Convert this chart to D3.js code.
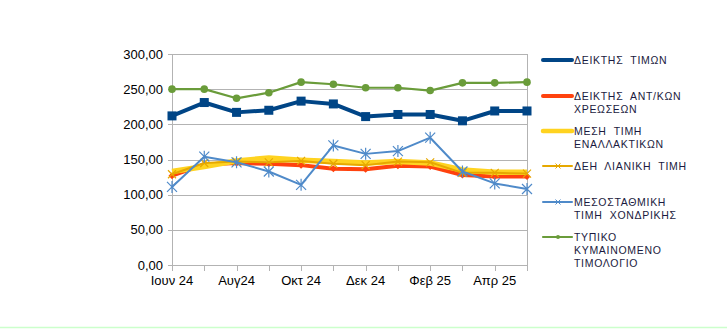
<!DOCTYPE html>
<html><head><meta charset="utf-8">
<script src="https://cdn.jsdelivr.net/npm/d3@7"></script>
<style>
body{margin:0;background:#fff;}
text{font-family:"Liberation Sans",Arial,sans-serif;}
</style></head>
<body><svg id="c" width="727" height="329"></svg>
<script>
const categories = ["Ιουν 24","Ιουλ 24","Αυγ24","Σεπ 24","Οκτ 24","Νοε 24","Δεκ 24","Ιαν 25","Φεβ 25","Μαρ 25","Απρ 25","Μαϊ 25"];
const shownLabels = ["Ιουν 24","Αυγ24","Οκτ 24","Δεκ 24","Φεβ 25","Απρ 25"];
const yTicks = [0,50,100,150,200,250,300];

const priceIndex   = [212, 231, 217, 220, 233, 229, 211, 214, 214, 205, 219, 219];
const chargesIndex = [127, 143, 145, 144, 142, 137, 136, 141, 140, 128, 126, 126];
const altAverage   = [133, 140, 148, 152, 149, 147, 145, 147, 145, 135, 132, 132];
const dehRetail    = [129, 145, 147, 146, 148, 144, 142, 147, 146, 131, 131, 130];
const wholesale    = [111, 154, 146, 133, 114, 170, 158, 162, 181, 133, 116, 108];
const floatingTariff = [250, 250, 237, 245, 260, 257, 252, 252, 248, 259, 259, 260];

const seriesNames = [["ΔΕΙΚΤΗΣ  ΤΙΜΩΝ"],["ΔΕΙΚΤΗΣ  ΑΝΤ/ΚΩΝ","ΧΡΕΩΣΕΩΝ"],["ΜΕΣΗ  ΤΙΜΗ","ΕΝΑΛΛΑΚΤΙΚΩΝ"],["ΔΕΗ  ΛΙΑΝΙΚΗ  ΤΙΜΗ"],["ΜΕΣΟΣΤΑΘΜΙΚΗ","ΤΙΜΗ  ΧΟΝΔΡΙΚΗΣ"],["ΤΥΠΙΚΟ","ΚΥΜΑΙΝΟΜΕΝΟ","ΤΙΜΟΛΟΓΙΟ"]];

const series = [
  {values: priceIndex, color:"#004586", width:4, marker:"square"},
  {values: chargesIndex, color:"#ff420e", width:4, marker:"diamond"},
  {values: altAverage, color:"#ffd320", width:5.5, marker:null},
  {values: dehRetail, color:"#e6a800", width:2, marker:"x"},
  {values: wholesale, color:"#4f8ac9", width:2, marker:"asterisk"},
  {values: floatingTariff, color:"#6a9c3a", width:2.2, marker:"circle"}
];

const svg = d3.select("#c");
const L=172, R=527, T=54, B=265;
const x = d3.scalePoint().domain(categories).range([L,R]);
const y = d3.scaleLinear().domain([0,300]).range([B,T]);
const fmt = v => d3.format(".2f")(v).replace(".",",");

svg.append("line").attr("x1",0).attr("x2",727).attr("y1",327.5).attr("y2",327.5).attr("stroke","#ccffcc").attr("stroke-width",1.5);

svg.append("g").selectAll("line").data(yTicks).join("line")
  .attr("x1",L-4).attr("x2",R).attr("y1",d=>Math.round(y(d))+0.5).attr("y2",d=>Math.round(y(d))+0.5)
  .attr("stroke","#b3b3b3").attr("stroke-width",1);
svg.append("line").attr("x1",R+0.5).attr("x2",R+0.5).attr("y1",T).attr("y2",B).attr("stroke","#b3b3b3");
svg.append("line").attr("x1",L+0.5).attr("x2",L+0.5).attr("y1",T).attr("y2",B+6).attr("stroke","#b3b3b3");
svg.append("g").selectAll("line").data(categories).join("line")
  .attr("x1",d=>Math.round(x(d))+0.5).attr("x2",d=>Math.round(x(d))+0.5).attr("y1",B).attr("y2",B+6)
  .attr("stroke","#b3b3b3");

svg.append("g").selectAll("text").data(yTicks).join("text")
  .attr("x",163).attr("y",d=>y(d)).attr("dy","0.35em").attr("text-anchor","end")
  .attr("font-size",13).attr("fill","#000").text(fmt);
svg.append("g").selectAll("text").data(shownLabels).join("text")
  .attr("x",d=>x(d)).attr("y",285).attr("text-anchor","middle")
  .attr("font-size",13).attr("fill","#000").text(d=>d);

function drawMarker(g, type, cx, cy, color){
  if(type==="square"){
    g.append("rect").attr("x",cx-4.5).attr("y",cy-4.5).attr("width",9).attr("height",9).attr("fill",color);
  } else if(type==="diamond"){
    g.append("path").attr("d",`M${cx},${cy-3.5}L${cx+3.5},${cy}L${cx},${cy+3.5}L${cx-3.5},${cy}Z`).attr("fill",color);
  } else if(type==="x"){
    g.append("path").attr("d",`M${cx-4},${cy-4}L${cx+4},${cy+4}M${cx-4},${cy+4}L${cx+4},${cy-4}`).attr("stroke",color).attr("stroke-width",1.2);
  } else if(type==="asterisk"){
    g.append("path").attr("d",`M${cx-5},${cy-5}L${cx+5},${cy+5}M${cx-5},${cy+5}L${cx+5},${cy-5}M${cx},${cy-6}L${cx},${cy+6}`).attr("stroke",color).attr("stroke-width",1.2);
  } else if(type==="circle"){
    g.append("circle").attr("cx",cx).attr("cy",cy).attr("r",3.8).attr("fill",color);
  }
}

const line = d3.line().x((d,i)=>x(categories[i])).y(d=>y(d));
series.forEach(s=>{
  const g = svg.append("g");
  g.append("path").datum(s.values).attr("d",line).attr("fill","none")
    .attr("stroke",s.color).attr("stroke-width",s.width).attr("stroke-linejoin","round");
  if(s.marker) s.values.forEach((v,i)=>drawMarker(g,s.marker,x(categories[i]),y(v),s.color));
});

const legY = [60, 96, 131, 166, 202, 237];
series.forEach((s,i)=>{
  const g = svg.append("g");
  g.append("line").attr("x1",543).attr("x2",572).attr("y1",legY[i]).attr("y2",legY[i])
    .attr("stroke",s.color).attr("stroke-width",Math.min(s.width,4.5)).attr("stroke-linecap","round");
  if(s.marker==="x"||s.marker==="asterisk"){
    const cx=558, cy=legY[i];
    g.append("path").attr("d",`M${cx-2.5},${cy-2.5}L${cx+2.5},${cy+2.5}M${cx-2.5},${cy+2.5}L${cx+2.5},${cy-2.5}`).attr("stroke",s.color).attr("stroke-width",1);
  } else if(s.marker==="circle"){
    g.append("circle").attr("cx",558).attr("cy",legY[i]).attr("r",2).attr("fill",s.color);
  }
  seriesNames[i].forEach((t,j)=>{
    g.append("text").attr("x",574).attr("y",legY[i]+j*13).attr("dy","0.35em")
      .attr("font-size",10.5).attr("letter-spacing","0.7px").attr("fill","#1a1a40")
      .attr("xml:space","preserve").style("white-space","pre").text(t);
  });
});
</script></body></html>
